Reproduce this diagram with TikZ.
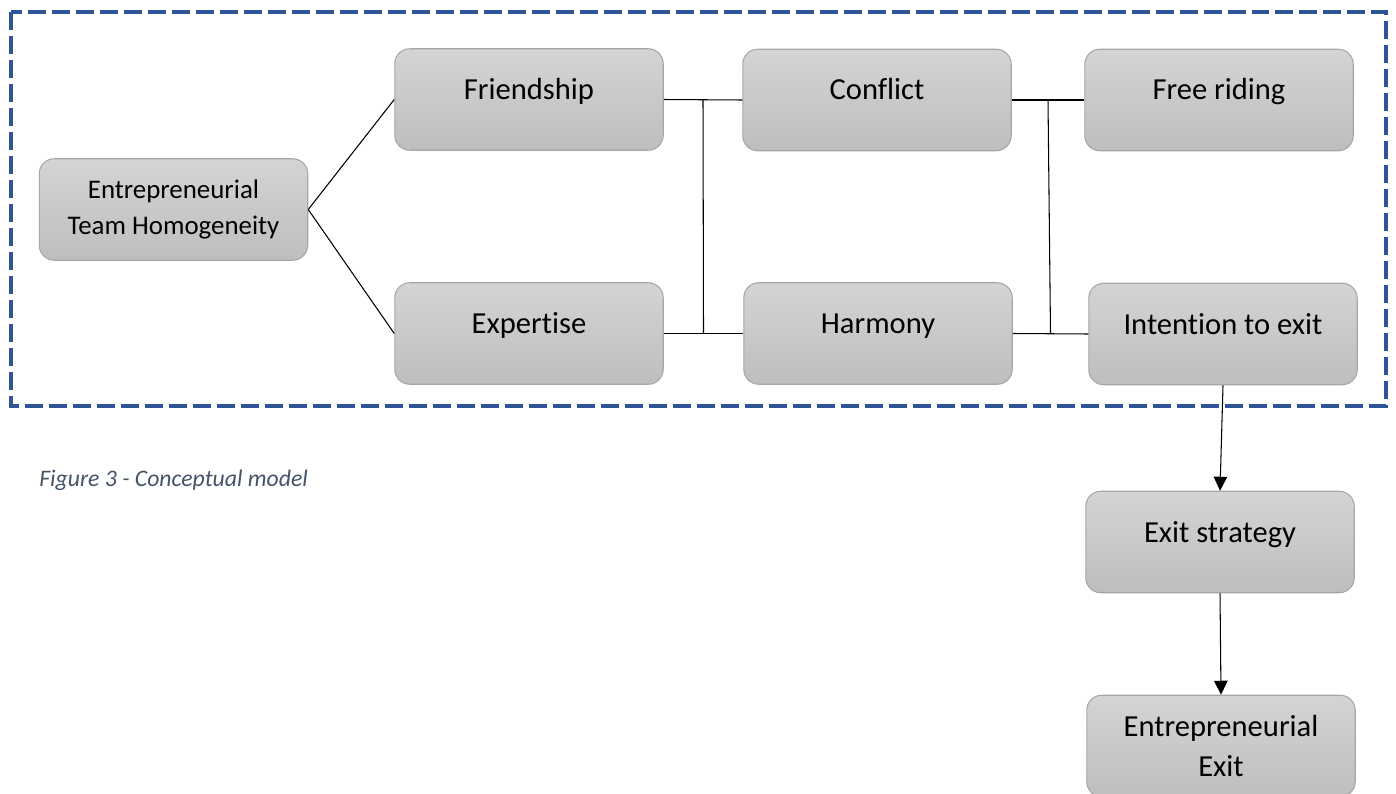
\documentclass[tikz,border=0pt]{standalone}
\usepackage{fontspec}
\setmainfont{Carlito}[Ligatures=NoCommon]
\usepackage{tikz}
\usetikzlibrary{arrows.meta,positioning,calc}

\definecolor{boxtop}{HTML}{D4D4D4}
\definecolor{boxbot}{HTML}{BEBEBE}
\definecolor{boxline}{HTML}{A6A6A6}
\definecolor{framecol}{HTML}{2F5597}
\definecolor{capcol}{HTML}{44546A}

\begin{document}
\begin{tikzpicture}[
  x=0.02cm, y=-0.02cm,
  box/.style={draw=boxline, line width=0.6pt, rounded corners=0.3cm,
              top color=boxtop, bottom color=boxbot,
              minimum width=5.37cm, minimum height=2.03cm, inner sep=2pt,
              align=center, font=\fontsize{17.4}{22.8}\selectfont},
  oneline/.style={box, text height=0.4cm, text depth=0.4cm},
  link/.style={black, line width=0.6pt},
  arr/.style={link, -{Triangle[length=0.28cm, width=0.27cm]}},
]
\useasboundingbox (0,0) rectangle (1396,794);

% --- Boxes ---
\node[box, font=\fontsize{15.3}{20.5}\selectfont] (eth) at (173.5,209.5) {Entrepreneurial\\Team Homogeneity};
\node[oneline] (fr) at (529,99.5) {Friendship};
\node[oneline] (co) at (877,100) {Conflict};
\node[oneline] (frr) at (1219,100) {Free riding};
\node[oneline] (ex) at (529,333.5) {Expertise};
\node[oneline] (ha) at (878,333.5) {Harmony};
\node[oneline] (ie) at (1223,334) {Intention to exit};
\node[oneline] (es) at (1220,542) {Exit strategy};
\node[box] (ee) at (1221,746) {Entrepreneurial\\Exit};

% --- Dashed frame ---
\draw[framecol, line width=2.8pt, dash pattern=on 0.36cm off 0.12cm] (11,12) rectangle (1386,406);

% --- Connectors ---
\draw[link] (eth.east) -- (fr.west);
\draw[link] (eth.east) -- (ex.west);
\draw[link] (fr.east) -- (co.west);
\draw[link] (ex.east) -- (ha.west);
\coordinate (j1) at ($(fr.east)!0.5!(co.west)$);
\coordinate (j2) at ($(ex.east)!0.5!(ha.west)$);
\draw[link] (j1) -- (j2);
\draw[link] (co.east) -- (frr.west);
\draw[link] (ha.east) -- (ie.west);
\coordinate (j3) at ($(co.east)!0.5!(frr.west)$);
\coordinate (j4) at ($(ha.east)!0.5!(ie.west)$);
\draw[link] (j3) -- (j4);
\draw[arr] (ie.south) -- (es.north);
\draw[arr] (es.south) -- (ee.north);

% --- Caption ---
\node[anchor=base west, inner sep=0pt, text=capcol, font=\fontsize{13.5}{16}\selectfont\itshape] (cap) at (39,486) {Figure 3 - Conceptual model};
\end{tikzpicture}
\end{document}
